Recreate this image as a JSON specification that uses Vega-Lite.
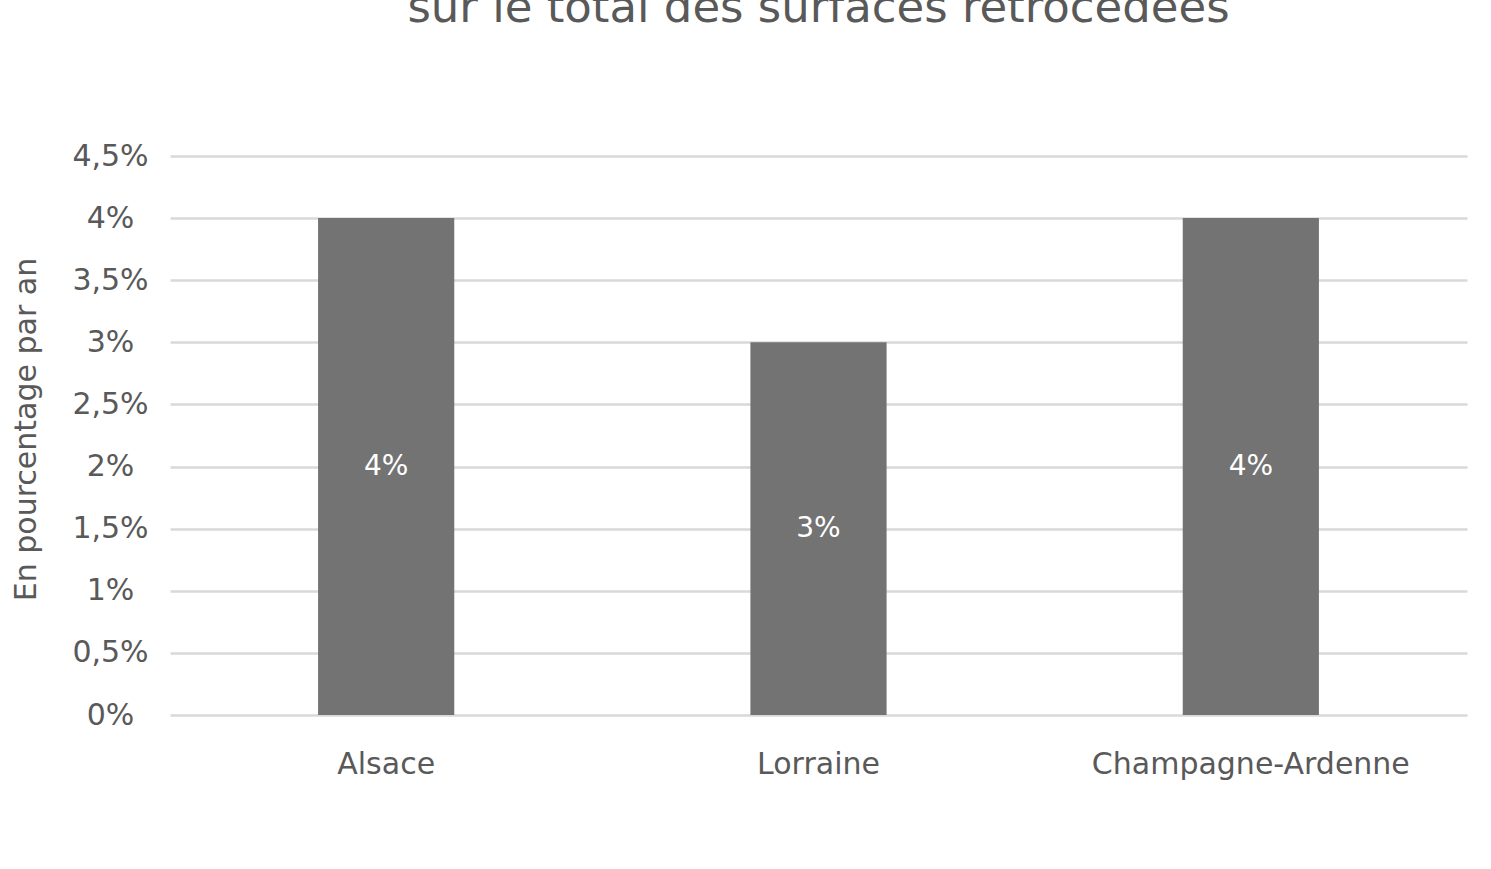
{
  "$schema": "https://vega.github.io/schema/vega-lite/v6.json",
  "autosize": "none",
  "width": 1297,
  "height": 559,
  "padding": {"left": 170, "top": 156, "right": 24, "bottom": 154},
  "background": "white",
  "config": {
    "font": "DejaVu Sans",
    "view": {"stroke": null}
  },
  "title": {
    "text": "sur le total des surfaces rétrocédées",
    "font": "DejaVu Sans",
    "fontSize": 45,
    "fontWeight": "normal",
    "color": "#595959",
    "anchor": "middle",
    "frame": "group",
    "offset": 110
  },
  "data": {
    "values": [
      {"region": "Alsace", "value": 4, "label": "4%"},
      {"region": "Lorraine", "value": 3, "label": "3%"},
      {"region": "Champagne-Ardenne", "value": 4, "label": "4%"}
    ]
  },
  "encoding": {
    "x": {
      "field": "region",
      "type": "nominal",
      "sort": null,
      "scale": {"paddingInner": 0.685, "paddingOuter": 0.3425},
      "axis": {
        "title": null,
        "labelAngle": 0,
        "labelFontSize": 30,
        "labelColor": "#595959",
        "labelPadding": 34,
        "labelLimit": 0,
        "ticks": false,
        "tickSize": 0,
        "domain": false
      }
    }
  },
  "resolve": {"scale": {"y": "independent"}, "axis": {"y": "independent"}},
  "layer": [
    {
      "mark": {"type": "bar", "color": "#737373"},
      "encoding": {
        "y": {
          "field": "value",
          "type": "quantitative",
          "scale": {"domain": [0, 4.5], "nice": false},
          "axis": {
            "title": "En pourcentage par an",
            "titleFontSize": 30,
            "titleFontWeight": "normal",
            "titleColor": "#595959",
            "titleX": -144,
            "titleY": 273,
            "titleAngle": -90,
            "titleAlign": "center",
            "titleBaseline": "middle",
            "values": [0, 0.5, 1, 1.5, 2, 2.5, 3, 3.5, 4, 4.5],
            "labelExpr": "replace(format(datum.value, '~g'), '.', ',') + '%'",
            "labelFontSize": 30,
            "labelColor": "#595959",
            "labelAlign": "center",
            "labelPadding": 60,
            "ticks": false,
            "tickSize": 0,
            "domain": false,
            "grid": true,
            "gridColor": "#d9d9d9",
            "gridWidth": 2.5
          }
        }
      }
    },
    {
      "mark": {"type": "text", "color": "white", "fontSize": 28, "baseline": "middle", "align": "center"},
      "encoding": {
        "y": {
          "field": "value",
          "type": "quantitative",
          "scale": {"domain": [0, 9], "nice": false},
          "axis": null
        },
        "text": {"field": "label"}
      }
    }
  ]
}
